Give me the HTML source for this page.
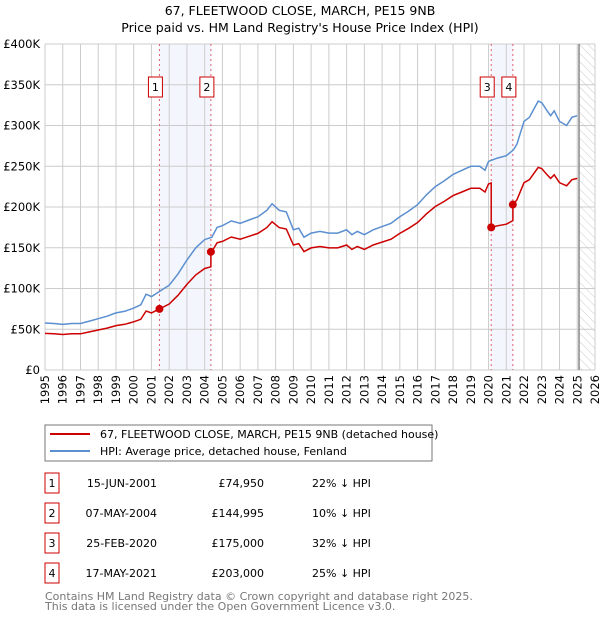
<!DOCTYPE html>
<html><head><meta charset="utf-8"><style>
body{margin:0;background:#fff;font-family:"DejaVu Sans","Liberation Sans",sans-serif;}
svg text{font-family:"DejaVu Sans","Liberation Sans",sans-serif;}
</style></head><body>
<svg id="c" width="600" height="620" viewBox="0 0 600 620" xmlns="http://www.w3.org/2000/svg">
<defs><pattern id="hatch" width="6" height="6" patternUnits="userSpaceOnUse" patternTransform="rotate(-45)"><line x1="0" y1="0" x2="0" y2="6" stroke="#ccc" stroke-width="1"/></pattern></defs>
<text x="300" y="15" text-anchor="middle" font-size="12.5">67, FLEETWOOD CLOSE, MARCH, PE15 9NB</text>
<text x="300" y="32" text-anchor="middle" font-size="12.5">Price paid vs. HM Land Registry's House Price Index (HPI)</text>
<g id="plot"></g>
<g>
<rect x="45" y="425" width="387" height="36" fill="#fff" stroke="#777"/>
<line x1="50" y1="434" x2="90" y2="434" stroke="#cc0000" stroke-width="2"/>
<text x="100" y="438" font-size="11">67, FLEETWOOD CLOSE, MARCH, PE15 9NB (detached house)</text>
<line x1="50" y1="451" x2="90" y2="451" stroke="#5b8fd0" stroke-width="2"/>
<text x="100" y="455" font-size="11">HPI: Average price, detached house, Fenland</text>
</g>
<g id="table"></g>
<text x="45" y="600" font-size="11" fill="#777">Contains HM Land Registry data © Crown copyright and database right 2025.</text>
<text x="45" y="610" font-size="11" fill="#777">This data is licensed under the Open Government Licence v3.0.</text>
</svg>
<script>
const hpiYears=[1995,1995.5,1996,1996.5,1997,1997.5,1998,1998.5,1999,1999.5,2000,2000.4,2000.7,2001,2001.5,2002,2002.5,2003,2003.5,2004,2004.4,2004.7,2005,2005.5,2006,2006.5,2007,2007.5,2007.8,2008.2,2008.6,2009,2009.3,2009.6,2010,2010.5,2011,2011.5,2012,2012.3,2012.6,2013,2013.5,2014,2014.5,2015,2015.5,2016,2016.5,2017,2017.5,2018,2018.5,2019,2019.5,2019.8,2020,2020.5,2021,2021.4,2021.6,2022,2022.3,2022.8,2023,2023.3,2023.5,2023.7,2024,2024.4,2024.7,2025];
const hpiValues=[57.7,57,56,57,57,60,63,66,70,72,76,80,93,90,97,104,118,135,150,160,163,175,177,183,180,184,188,196,204,196,194,172,174,163,168,170,168,168,172,166,170,166,172,176,180,188,195,203,215,225,232,240,245,250,250,245,256,260,263,270,277,305,310,330,328,318,312,318,305,300,310,312];
const saleYears=[2001.45,2004.35,2020.15,2021.37];
const salePrices=[74950,144995,175000,203000];
const saleLabels=["1","2","3","4"];
const saleDates=["15-JUN-2001","07-MAY-2004","25-FEB-2020","17-MAY-2021"];
const salePriceText=["£74,950","£144,995","£175,000","£203,000"];
const saleDiffs=["22% ↓ HPI","10% ↓ HPI","32% ↓ HPI","25% ↓ HPI"];
const yTicks=[0,50,100,150,200,250,300,350,400];
const xTicks=[1995,1996,1997,1998,1999,2000,2001,2002,2003,2004,2005,2006,2007,2008,2009,2010,2011,2012,2013,2014,2015,2016,2017,2018,2019,2020,2021,2022,2023,2024,2025,2026];

const NS="http://www.w3.org/2000/svg";
const L=45,R=595,T=44,B=370;
const xs=t=>L+(t-1995)*(R-L)/31;
const ys=v=>B-v*(B-T)/400;
function mk(tag,attrs,parent){const e=document.createElementNS(NS,tag);for(const k in attrs)e.setAttribute(k,attrs[k]);parent.appendChild(e);return e;}
function hpiAt(t){for(let i=0;i<hpiYears.length-1;i++){if(t<=hpiYears[i+1]){const f=(t-hpiYears[i])/(hpiYears[i+1]-hpiYears[i]);return hpiValues[i]+f*(hpiValues[i+1]-hpiValues[i]);}}return hpiValues[hpiValues.length-1];}
const plot=document.getElementById('plot');
for(let i=0;i<saleYears.length;i+=2){
 const r=mk('rect',{x:xs(saleYears[i]),y:T,width:xs(saleYears[i+1])-xs(saleYears[i]),height:B-T,fill:'#f3f6fd'},plot);
 
 
}
const hz=mk('rect',{x:xs(2025.1),y:T,width:R-xs(2025.1),height:B-T,fill:'url(#hatch)'},plot);


yTicks.forEach(v=>{
 const g=mk('line',{x1:L,x2:R,y1:ys(v),y2:ys(v),stroke:'#ccc'},plot);
 
 
 const t=mk('text',{x:L-5,y:ys(v)+4,'text-anchor':'end','font-size':'11.5'},plot);
 
 
 t.textContent=v===0?'£0':'£'+v+'K';
});
xTicks.forEach(y=>{
 const g=mk('line',{x1:xs(y),x2:xs(y),y1:T,y2:B,stroke:'#ccc'},plot);
 
 
 const t=mk('text',{x:0,y:0,'text-anchor':'end','font-size':'11.5',transform:`translate(${xs(y)+4},${B+5}) rotate(-90)`},plot);
 
 
 t.textContent=y;
});
const vl=mk('line',{x1:xs(2025.1),x2:xs(2025.1),y1:T,y2:B,stroke:'#888','stroke-width':1.5},plot);


saleYears.forEach((s,i)=>{
 const d=mk('line',{x1:xs(s),x2:xs(s),y1:T,y2:B,stroke:'#e06070','stroke-dasharray':'2,3'},plot);
 
 
});
let p='';hpiYears.forEach((y,i)=>{p+=(i?'L':'M')+xs(y).toFixed(1)+','+ys(hpiValues[i]).toFixed(1);});
const hl=mk('path',{d:p,fill:'none',stroke:'#5b8fd0','stroke-width':1.5},plot);


function ratioAt(t){let k=0;for(let i=0;i<saleYears.length;i++)if(t>=saleYears[i])k=i;return salePrices[k]/1000/hpiAt(saleYears[k]);}
let pts=[];hpiYears.forEach(y=>pts.push(y));saleYears.forEach(y=>pts.push(y));pts.sort((a,b)=>a-b);
let rp='';pts.forEach((t,i)=>{
 const si=saleYears.indexOf(t);
 if(si>0){const prev=salePrices[si-1]/1000/hpiAt(saleYears[si-1]);rp+='L'+xs(t).toFixed(1)+','+ys(hpiAt(t)*prev).toFixed(1);}
 rp+=(i?'L':'M')+xs(t).toFixed(1)+','+ys(hpiAt(t)*ratioAt(t)).toFixed(1);
});
const pl=mk('path',{d:rp,fill:'none',stroke:'#cc0000','stroke-width':1.5},plot);


saleYears.forEach((s,i)=>{
 const c=mk('circle',{cx:xs(s),cy:ys(salePrices[i]/1000),r:4,fill:'#cc0000'},plot);
 
 
 const b=mk('rect',{x:xs(s)-11,y:77,width:14,height:20,fill:'#fff',stroke:'#cc0000'},plot);
 
 
 const t=mk('text',{x:xs(s)-4,y:91,'text-anchor':'middle','font-size':'11'},plot);
 
 
 t.textContent=saleLabels[i];
});
const tb=document.getElementById('table');
saleLabels.forEach((l,i)=>{
 const cy=483+i*30;
 const b=mk('rect',{x:45,y:cy-10,width:14,height:20,fill:'#fff',stroke:'#cc0000'},tb);
 
 
 const cols=[[52,l,'middle'],[157,saleDates[i],'end'],[264,salePriceText[i],'end'],[312,saleDiffs[i],'start']];
 cols.forEach(c=>{
  const t=mk('text',{x:c[0],y:cy+4,'text-anchor':c[2],'font-size':'11'},tb);
  
  
  t.textContent=c[1];
 });
});
</script>
</body></html>
